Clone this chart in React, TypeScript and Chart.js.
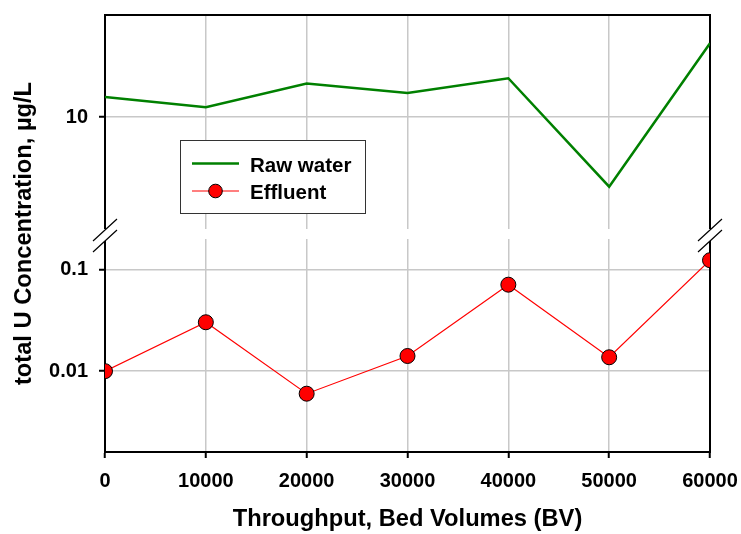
import React, { useEffect, useRef } from "react";
import { Chart, registerables } from "chart.js";

Chart.register(...registerables);

// ---- data ----
const bedVolumes = [0, 10000, 20000, 30000, 40000, 50000, 60000];
const rawWater = [15.7, 12.5, 21.3, 17.2, 24.0, 2.08, 52.8];
const effluent = [0.01, 0.0303, 0.006, 0.0141, 0.071, 0.0137, 0.1237];
const xTicks = [0, 10000, 20000, 30000, 40000, 50000, 60000];
const topTicks = [10];
const bottomTicks = [0.01, 0.1];
const seriesLabels = ["Raw water", "Effluent"];
const xTitleText = "Throughput, Bed Volumes (BV)";
const yTitleText = "total U Concentration, µg/L";

const FONT = "Arial, 'Liberation Sans', Helvetica, sans-serif";
const GRID = "#c8c8c8";

const breakPlugin = {
  id: "axisBreak",
  beforeDatasetsDraw(chart: any) {
    const { ctx, chartArea, scales } = chart;
    const { left, right, top, bottom } = chartArea;
    const gap = scales.yGap;
    ctx.save();
    ctx.strokeStyle = "#000";
    ctx.lineWidth = 2;
    ctx.lineJoin = "miter";
    ctx.beginPath();
    ctx.moveTo(left - 1, top);
    ctx.lineTo(right, top);
    ctx.lineTo(right, bottom + 1);
    ctx.stroke();
    ctx.fillStyle = "#fff";
    ctx.fillRect(left - 2, gap.top, right - left + 4, gap.bottom - gap.top);
    const dx = 12;
    const dy = 11;
    const y1 = gap.top + 1;
    const y2 = gap.bottom + 2;
    for (const ax of [left, right]) {
      ctx.fillStyle = "#fff";
      ctx.beginPath();
      ctx.moveTo(ax - dx, y1 + dy);
      ctx.lineTo(ax + dx, y1 - dy);
      ctx.lineTo(ax + dx, y2 - dy);
      ctx.lineTo(ax - dx, y2 + dy);
      ctx.closePath();
      ctx.fill();
      ctx.strokeStyle = "#000";
      ctx.lineWidth = 1.2;
      ctx.beginPath();
      ctx.moveTo(ax - dx, y1 + dy);
      ctx.lineTo(ax + dx, y1 - dy);
      ctx.moveTo(ax - dx, y2 + dy);
      ctx.lineTo(ax + dx, y2 - dy);
      ctx.stroke();
    }
    ctx.restore();
  },
};

const legendPlugin = {
  id: "boxLegend",
  afterDatasetsDraw(chart: any) {
    const { ctx, chartArea } = chart;
    const bx = chartArea.left + 75;
    const by = chartArea.top + 125;
    const bw = 185;
    const bh = 73;
    ctx.save();
    ctx.fillStyle = "#fff";
    ctx.fillRect(bx, by, bw, bh);
    ctx.strokeStyle = "#333";
    ctx.lineWidth = 1;
    ctx.strokeRect(bx + 0.5, by + 0.5, bw, bh);
    const rows = [by + 23.5, by + 51];
    const ds = chart.data.datasets;
    ds.forEach((d: any, i: number) => {
      const yy = rows[i];
      ctx.strokeStyle = d.borderColor;
      ctx.lineWidth = d.borderWidth;
      ctx.beginPath();
      ctx.moveTo(bx + 12, yy);
      ctx.lineTo(bx + 59, yy);
      ctx.stroke();
      if (d.pointRadius > 0) {
        ctx.beginPath();
        ctx.arc(bx + 35.5, yy, 6.8, 0, Math.PI * 2);
        ctx.fillStyle = d.pointBackgroundColor;
        ctx.fill();
        ctx.strokeStyle = d.pointBorderColor;
        ctx.lineWidth = d.pointBorderWidth;
        ctx.stroke();
      }
      ctx.fillStyle = "#000";
      ctx.font = `bold 20.5px ${FONT}`;
      ctx.textBaseline = "alphabetic";
      ctx.textAlign = "left";
      ctx.fillText(d.label, bx + 70, yy + 8);
    });
    ctx.restore();
  },
};

const zeroV = (s: any, w: number) => {
  s.width = w;
  s.paddingTop = 0;
  s.paddingBottom = 0;
};

export default function App() {
  const ref = useRef<HTMLCanvasElement>(null);
  useEffect(() => {
    const canvas = ref.current!;
    const chart = new Chart(canvas, {
      type: "line",
      data: {
        datasets: [
          {
            label: seriesLabels[0],
            data: bedVolumes.map((x, i) => ({ x, y: rawWater[i] })),
            yAxisID: "yTop",
            borderColor: "#008000",
            backgroundColor: "#008000",
            borderWidth: 2.5,
            pointRadius: 0,
            tension: 0,
          },
          {
            label: seriesLabels[1],
            data: bedVolumes.map((x, i) => ({ x, y: effluent[i] })),
            yAxisID: "yBot",
            borderColor: "#ff0000",
            backgroundColor: "#ff0000",
            borderWidth: 1.2,
            pointRadius: 7.5,
            pointBackgroundColor: "#ff0000",
            pointBorderColor: "#000",
            pointBorderWidth: 1,
            tension: 0,
          },
        ],
      },
      options: {
        responsive: false,
        animation: false,
        devicePixelRatio: 1,
        events: [],
        layout: { padding: { left: 0, top: 15, right: 31, bottom: 0 } },
        plugins: { legend: { display: false }, tooltip: { enabled: false } },
        scales: {
          x: {
            type: "linear",
            position: "bottom",
            min: 0,
            max: 60000,
            afterBuildTicks: (s: any) => {
              s.ticks = xTicks.map((v) => ({ value: v }));
            },
            afterFit: (s: any) => {
              s.height = 82;
              s.paddingLeft = 0;
              s.paddingRight = 0;
            },
            ticks: {
              autoSkip: false,
              maxRotation: 0,
              padding: 11,
              color: "#000",
              font: { family: FONT, size: 20, weight: "bold" },
              callback: (v: any) => String(v),
            },
            grid: { color: GRID, lineWidth: 1.5, tickColor: "#000", tickWidth: 2, tickLength: 6 },
            border: { color: "#000", width: 2 },
            title: {
              display: true,
              text: xTitleText,
              color: "#000",
              font: { family: FONT, size: 23.7, weight: "bold" },
              padding: { top: 0, bottom: 0 },
            },
          },
          yBot: {
            type: "logarithmic",
            position: "left",
            stack: "y",
            stackWeight: 213,
            min: 0.0016,
            max: 0.2,
            afterBuildTicks: (s: any) => {
              s.ticks = bottomTicks.map((v) => ({ value: v }));
            },
            afterFit: (s: any) => zeroV(s, 65),
            ticks: {
              autoSkip: false,
              padding: 11,
              color: "#000",
              font: { family: FONT, size: 20, weight: "bold" },
              callback: (v: any) => String(v),
            },
            grid: { color: GRID, lineWidth: 1.5, tickColor: "#000", tickWidth: 2, tickLength: 6 },
            border: { color: "#000", width: 2 },
          },
          yGap: {
            type: "linear",
            position: "left",
            stack: "y",
            stackWeight: 10,
            min: 0,
            max: 1,
            afterFit: (s: any) => zeroV(s, 65),
            ticks: { display: false },
            grid: { display: false },
            border: { display: false },
          },
          yTop: {
            type: "logarithmic",
            position: "left",
            stack: "y",
            stackWeight: 214,
            min: 0.8,
            max: 100,
            afterBuildTicks: (s: any) => {
              s.ticks = topTicks.map((v) => ({ value: v }));
            },
            afterFit: (s: any) => zeroV(s, 65),
            ticks: {
              autoSkip: false,
              padding: 11,
              color: "#000",
              font: { family: FONT, size: 20, weight: "bold" },
              callback: (v: any) => String(v),
            },
            grid: { color: GRID, lineWidth: 1.5, tickColor: "#000", tickWidth: 2, tickLength: 6 },
            border: { color: "#000", width: 2 },
          },
          yTitle: {
            type: "linear",
            position: "left",
            min: 0,
            max: 1,
            afterFit: (s: any) => zeroV(s, 40),
            ticks: { display: false },
            grid: { display: false },
            border: { display: false },
            title: {
              display: true,
              text: yTitleText,
              color: "#000",
              font: { family: FONT, size: 23.7, weight: "bold" },
              padding: { top: 10.5, bottom: 0 },
            },
          },
        } as any,
      },
      plugins: [breakPlugin, legendPlugin],
    } as any);
    return () => chart.destroy();
  }, []);
  return (
    <div style={{ position: "fixed", left: 0, top: 0, width: 741, height: 534, background: "#fff" }}>
      <canvas ref={ref} width={741} height={534} style={{ display: "block", width: 741, height: 534 }} />
    </div>
  );
}
